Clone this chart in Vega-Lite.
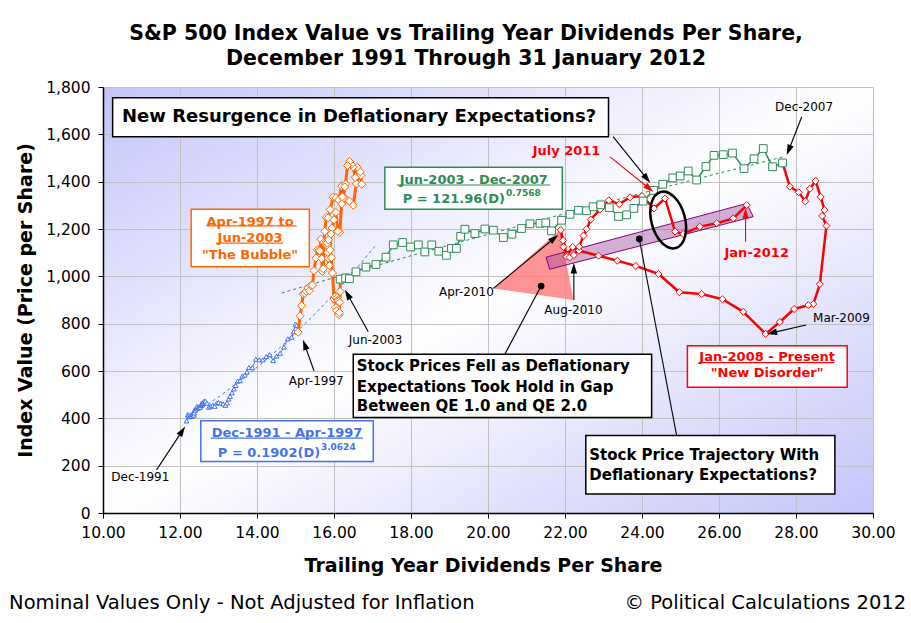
{
  "$schema": "https://vega.github.io/schema/vega-lite/v6.json",
  "width": 770,
  "height": 426,
  "autosize": "none",
  "padding": {"left": 103, "top": 87, "right": 38, "bottom": 110},
  "background": "#ffffff",
  "config": {
    "font": "DejaVu Sans",
    "view": {"stroke": null, "fill": {"gradient": "linear", "x1": 0, "y1": 0, "x2": 1, "y2": 1, "stops": [{"offset": 0, "color": "#c4c4fa"}, {"offset": 0.5, "color": "#ffffff"}, {"offset": 1, "color": "#c4c4fa"}]}},
    "axis": {"gridColor": "#c0c0c0", "domainColor": "#000000", "tickColor": "#000000", "labelColor": "#000000", "titleColor": "#000000", "labelFont": "DejaVu Sans", "labelFontSize": 15.5, "titleFont": "DejaVu Sans", "titleFontSize": 19, "titleFontWeight": "bold", "tickSize": 5, "labelOverlap": false, "labelFlush": false, "domainWidth": 1.5}
  },
  "title": {"text": ["S&P 500 Index Value vs Trailing Year Dividends Per Share,", "December 1991 Through 31 January 2012"], "font": "DejaVu Sans", "fontSize": 20.5, "fontWeight": "bold", "lineHeight": 25, "anchor": "middle", "dx": -22, "offset": 11, "color": "#000000"},
  "datasets": {
    "sp": [
      {"m":"1991-12","s":"a","d":12.17,"p":389},{"m":"1992-01","s":"a","d":12.2,"p":416},{"m":"1992-02","s":"a","d":12.22,"p":413},{"m":"1992-03","s":"a","d":12.24,"p":407},{"m":"1992-04","s":"a","d":12.26,"p":407},{"m":"1992-05","s":"a","d":12.28,"p":415},{"m":"1992-06","s":"a","d":12.3,"p":408},{"m":"1992-07","s":"a","d":12.31,"p":415},{"m":"1992-08","s":"a","d":12.33,"p":418},{"m":"1992-09","s":"a","d":12.35,"p":419},{"m":"1992-10","s":"a","d":12.36,"p":413},{"m":"1992-11","s":"a","d":12.37,"p":423},{"m":"1992-12","s":"a","d":12.38,"p":436},
      {"m":"1993-01","s":"a","d":12.4,"p":435},{"m":"1993-02","s":"a","d":12.42,"p":442},{"m":"1993-03","s":"a","d":12.44,"p":450},{"m":"1993-04","s":"a","d":12.46,"p":443},{"m":"1993-05","s":"a","d":12.48,"p":445},{"m":"1993-06","s":"a","d":12.5,"p":448},{"m":"1993-07","s":"a","d":12.52,"p":447},{"m":"1993-08","s":"a","d":12.54,"p":454},{"m":"1993-09","s":"a","d":12.55,"p":459},{"m":"1993-10","s":"a","d":12.57,"p":464},{"m":"1993-11","s":"a","d":12.58,"p":463},{"m":"1993-12","s":"a","d":12.6,"p":466},
      {"m":"1994-01","s":"a","d":12.63,"p":473},{"m":"1994-02","s":"a","d":12.66,"p":472},{"m":"1994-03","s":"a","d":12.7,"p":464},{"m":"1994-04","s":"a","d":12.75,"p":447},{"m":"1994-05","s":"a","d":12.8,"p":451},{"m":"1994-06","s":"a","d":12.85,"p":455},{"m":"1994-07","s":"a","d":12.9,"p":451},{"m":"1994-08","s":"a","d":12.95,"p":464},{"m":"1994-09","s":"a","d":13.0,"p":467},{"m":"1994-10","s":"a","d":13.06,"p":464},{"m":"1994-11","s":"a","d":13.12,"p":461},{"m":"1994-12","s":"a","d":13.18,"p":455},
      {"m":"1995-01","s":"a","d":13.22,"p":465},{"m":"1995-02","s":"a","d":13.26,"p":482},{"m":"1995-03","s":"a","d":13.3,"p":493},{"m":"1995-04","s":"a","d":13.35,"p":508},{"m":"1995-05","s":"a","d":13.4,"p":524},{"m":"1995-06","s":"a","d":13.45,"p":539},{"m":"1995-07","s":"a","d":13.5,"p":557},{"m":"1995-08","s":"a","d":13.56,"p":559},{"m":"1995-09","s":"a","d":13.62,"p":579},{"m":"1995-10","s":"a","d":13.68,"p":583},{"m":"1995-11","s":"a","d":13.74,"p":596},{"m":"1995-12","s":"a","d":13.79,"p":615},
      {"m":"1996-01","s":"a","d":13.88,"p":614},{"m":"1996-02","s":"a","d":13.97,"p":650},{"m":"1996-03","s":"a","d":14.06,"p":647},{"m":"1996-04","s":"a","d":14.15,"p":647},{"m":"1996-05","s":"a","d":14.24,"p":661},{"m":"1996-06","s":"a","d":14.33,"p":669},{"m":"1996-07","s":"a","d":14.42,"p":644},{"m":"1996-08","s":"a","d":14.51,"p":663},{"m":"1996-09","s":"a","d":14.6,"p":675},{"m":"1996-10","s":"a","d":14.7,"p":701},{"m":"1996-11","s":"a","d":14.8,"p":736},{"m":"1996-12","s":"a","d":14.9,"p":743},
      {"m":"1997-01","s":"a","d":14.95,"p":766},{"m":"1997-02","s":"a","d":15.0,"p":798},{"m":"1997-03","s":"a","d":15.03,"p":792},{"m":"1997-04","s":"a","d":15.07,"p":764},
      {"m":"1997-04","s":"b","d":15.07,"p":764},{"m":"1997-05","s":"b","d":15.12,"p":833},{"m":"1997-06","s":"b","d":15.16,"p":876},{"m":"1997-07","s":"b","d":15.2,"p":925},{"m":"1997-08","s":"b","d":15.24,"p":928},{"m":"1997-09","s":"b","d":15.28,"p":937},{"m":"1997-10","s":"b","d":15.32,"p":951},{"m":"1997-11","s":"b","d":15.36,"p":939},{"m":"1997-12","s":"b","d":15.4,"p":962},
      {"m":"1998-01","s":"b","d":15.44,"p":963},{"m":"1998-02","s":"b","d":15.48,"p":1024},{"m":"1998-03","s":"b","d":15.53,"p":1077},{"m":"1998-04","s":"b","d":15.57,"p":1112},{"m":"1998-05","s":"b","d":15.6,"p":1108},{"m":"1998-06","s":"b","d":15.63,"p":1108},{"m":"1998-07","s":"b","d":15.66,"p":1157},{"m":"1998-08","s":"b","d":15.68,"p":1075},{"m":"1998-09","s":"b","d":15.7,"p":1021},{"m":"1998-10","s":"b","d":15.72,"p":1032},{"m":"1998-11","s":"b","d":15.74,"p":1144},{"m":"1998-12","s":"b","d":15.76,"p":1190},
      {"m":"1999-01","s":"b","d":15.8,"p":1249},{"m":"1999-02","s":"b","d":15.85,"p":1247},{"m":"1999-03","s":"b","d":15.9,"p":1282},{"m":"1999-04","s":"b","d":15.98,"p":1335},{"m":"1999-05","s":"b","d":16.05,"p":1332},{"m":"1999-06","s":"b","d":16.12,"p":1323},{"m":"1999-07","s":"b","d":16.2,"p":1381},{"m":"1999-08","s":"b","d":16.3,"p":1327},{"m":"1999-09","s":"b","d":16.4,"p":1318},{"m":"1999-10","s":"b","d":16.5,"p":1300},{"m":"1999-11","s":"b","d":16.58,"p":1391},{"m":"1999-12","s":"b","d":16.65,"p":1429},
      {"m":"2000-01","s":"b","d":16.7,"p":1426},{"m":"2000-02","s":"b","d":16.72,"p":1389},{"m":"2000-03","s":"b","d":16.68,"p":1442},{"m":"2000-04","s":"b","d":16.6,"p":1461},{"m":"2000-05","s":"b","d":16.55,"p":1418},{"m":"2000-06","s":"b","d":16.5,"p":1462},{"m":"2000-07","s":"b","d":16.45,"p":1473},{"m":"2000-08","s":"b","d":16.4,"p":1485},{"m":"2000-09","s":"b","d":16.35,"p":1468},{"m":"2000-10","s":"b","d":16.3,"p":1390},{"m":"2000-11","s":"b","d":16.28,"p":1378},{"m":"2000-12","s":"b","d":16.25,"p":1331},
      {"m":"2001-01","s":"b","d":16.22,"p":1336},{"m":"2001-02","s":"b","d":16.2,"p":1306},{"m":"2001-03","s":"b","d":16.15,"p":1186},{"m":"2001-04","s":"b","d":16.1,"p":1190},{"m":"2001-05","s":"b","d":16.05,"p":1270},{"m":"2001-06","s":"b","d":16.0,"p":1239},{"m":"2001-07","s":"b","d":15.95,"p":1204},{"m":"2001-08","s":"b","d":15.92,"p":1179},{"m":"2001-09","s":"b","d":15.88,"p":1045},{"m":"2001-10","s":"b","d":15.85,"p":1077},{"m":"2001-11","s":"b","d":15.82,"p":1130},{"m":"2001-12","s":"b","d":15.8,"p":1145},
      {"m":"2002-01","s":"b","d":15.82,"p":1140},{"m":"2002-02","s":"b","d":15.84,"p":1101},{"m":"2002-03","s":"b","d":15.86,"p":1154},{"m":"2002-04","s":"b","d":15.9,"p":1112},{"m":"2002-05","s":"b","d":15.93,"p":1079},{"m":"2002-06","s":"b","d":15.96,"p":1014},{"m":"2002-07","s":"b","d":16.0,"p":904},{"m":"2002-08","s":"b","d":16.03,"p":913},{"m":"2002-09","s":"b","d":16.05,"p":868},{"m":"2002-10","s":"b","d":16.07,"p":855},{"m":"2002-11","s":"b","d":16.08,"p":910},{"m":"2002-12","s":"b","d":16.1,"p":899},
      {"m":"2003-01","s":"b","d":16.12,"p":896},{"m":"2003-02","s":"b","d":16.13,"p":838},{"m":"2003-03","s":"b","d":16.14,"p":847},{"m":"2003-04","s":"b","d":16.15,"p":890},{"m":"2003-05","s":"b","d":16.16,"p":936},{"m":"2003-06","s":"b","d":16.16,"p":988},
      {"m":"2003-06","s":"c","d":16.16,"p":988},{"m":"2003-07","s":"c","d":16.3,"p":993},{"m":"2003-08","s":"c","d":16.4,"p":990},{"m":"2003-09","s":"c","d":16.57,"p":1019},{"m":"2003-10","s":"c","d":16.83,"p":1039},{"m":"2003-11","s":"c","d":17.09,"p":1050},{"m":"2003-12","s":"c","d":17.35,"p":1081},
      {"m":"2004-01","s":"c","d":17.54,"p":1133},{"m":"2004-02","s":"c","d":17.78,"p":1143},{"m":"2004-03","s":"c","d":17.99,"p":1124},{"m":"2004-04","s":"c","d":18.19,"p":1133},{"m":"2004-05","s":"c","d":18.36,"p":1103},{"m":"2004-06","s":"c","d":18.54,"p":1133},{"m":"2004-07","s":"c","d":18.72,"p":1106},{"m":"2004-08","s":"c","d":18.92,"p":1089},{"m":"2004-09","s":"c","d":19.05,"p":1118},{"m":"2004-10","s":"c","d":19.18,"p":1118},{"m":"2004-11","s":"c","d":19.29,"p":1169},{"m":"2004-12","s":"c","d":19.4,"p":1199},
      {"m":"2005-01","s":"c","d":19.66,"p":1181},{"m":"2005-02","s":"c","d":19.92,"p":1200},{"m":"2005-03","s":"c","d":20.14,"p":1195},{"m":"2005-04","s":"c","d":20.4,"p":1164},{"m":"2005-05","s":"c","d":20.62,"p":1178},{"m":"2005-06","s":"c","d":20.87,"p":1202},{"m":"2005-07","s":"c","d":21.09,"p":1222},{"m":"2005-08","s":"c","d":21.35,"p":1224},{"m":"2005-09","s":"c","d":21.5,"p":1226},{"m":"2005-10","s":"c","d":21.65,"p":1192},{"m":"2005-11","s":"c","d":21.91,"p":1237},{"m":"2005-12","s":"c","d":22.13,"p":1262},
      {"m":"2006-01","s":"c","d":22.35,"p":1279},{"m":"2006-02","s":"c","d":22.56,"p":1277},{"m":"2006-03","s":"c","d":22.73,"p":1294},{"m":"2006-04","s":"c","d":22.93,"p":1302},{"m":"2006-05","s":"c","d":23.15,"p":1290},{"m":"2006-06","s":"c","d":23.39,"p":1253},{"m":"2006-07","s":"c","d":23.6,"p":1260},{"m":"2006-08","s":"c","d":23.79,"p":1287},{"m":"2006-09","s":"c","d":24.03,"p":1318},{"m":"2006-10","s":"c","d":24.3,"p":1363},{"m":"2006-11","s":"c","d":24.54,"p":1389},{"m":"2006-12","s":"c","d":24.8,"p":1416},
      {"m":"2007-01","s":"c","d":24.99,"p":1424},{"m":"2007-02","s":"c","d":25.2,"p":1445},{"m":"2007-03","s":"c","d":25.42,"p":1407},{"m":"2007-04","s":"c","d":25.66,"p":1464},{"m":"2007-05","s":"c","d":25.87,"p":1511},{"m":"2007-06","s":"c","d":26.11,"p":1514},{"m":"2007-07","s":"c","d":26.35,"p":1521},{"m":"2007-08","s":"c","d":26.65,"p":1455},{"m":"2007-09","s":"c","d":26.91,"p":1497},{"m":"2007-10","s":"c","d":27.15,"p":1540},{"m":"2007-11","s":"c","d":27.39,"p":1463},{"m":"2007-12","s":"c","d":27.65,"p":1479},
      {"m":"2007-12","s":"d","d":27.65,"p":1479},{"m":"2008-01","s":"d","d":27.84,"p":1379},{"m":"2008-02","s":"d","d":28.07,"p":1355},{"m":"2008-03","s":"d","d":28.24,"p":1317},{"m":"2008-04","s":"d","d":28.36,"p":1370},{"m":"2008-05","s":"d","d":28.51,"p":1403},{"m":"2008-06","s":"d","d":28.64,"p":1336},{"m":"2008-07","s":"d","d":28.74,"p":1280},{"m":"2008-08","s":"d","d":28.68,"p":1255},{"m":"2008-09","s":"d","d":28.79,"p":1214},{"m":"2008-10","s":"d","d":28.62,"p":967},{"m":"2008-11","s":"d","d":28.45,"p":883},{"m":"2008-12","s":"d","d":28.32,"p":878},
      {"m":"2009-01","s":"d","d":27.95,"p":862},{"m":"2009-02","s":"d","d":27.58,"p":807},{"m":"2009-03","s":"d","d":27.21,"p":757},{"m":"2009-04","s":"d","d":26.63,"p":850},{"m":"2009-05","s":"d","d":26.09,"p":903},{"m":"2009-06","s":"d","d":25.55,"p":925},{"m":"2009-07","s":"d","d":24.97,"p":933},{"m":"2009-08","s":"d","d":24.43,"p":1010},{"m":"2009-09","s":"d","d":23.84,"p":1044},{"m":"2009-10","s":"d","d":23.36,"p":1066},{"m":"2009-11","s":"d","d":22.87,"p":1087},{"m":"2009-12","s":"d","d":22.36,"p":1109},
      {"m":"2010-01","s":"d","d":22.2,"p":1124},{"m":"2010-02","s":"d","d":22.05,"p":1089},{"m":"2010-03","s":"d","d":21.95,"p":1152},{"m":"2010-04","s":"d","d":21.89,"p":1196},{"m":"2010-05","s":"d","d":21.96,"p":1125},{"m":"2010-06","s":"d","d":22.04,"p":1083},{"m":"2010-07","s":"d","d":22.12,"p":1080},{"m":"2010-08","s":"d","d":22.23,"p":1090},{"m":"2010-09","s":"d","d":22.37,"p":1125},{"m":"2010-10","s":"d","d":22.48,"p":1172},{"m":"2010-11","s":"d","d":22.56,"p":1199},{"m":"2010-12","s":"d","d":22.67,"p":1240},
      {"m":"2011-01","s":"d","d":22.91,"p":1283},{"m":"2011-02","s":"d","d":23.14,"p":1321},{"m":"2011-03","s":"d","d":23.41,"p":1305},{"m":"2011-04","s":"d","d":23.69,"p":1334},{"m":"2011-05","s":"d","d":24.0,"p":1339},{"m":"2011-06","s":"d","d":24.31,"p":1287},{"m":"2011-07","s":"d","d":24.6,"p":1329},{"m":"2011-08","s":"d","d":24.86,"p":1189},{"m":"2011-09","s":"d","d":25.07,"p":1179},{"m":"2011-10","s":"d","d":25.5,"p":1210},{"m":"2011-11","s":"d","d":25.94,"p":1224},{"m":"2011-12","s":"d","d":26.37,"p":1245},
      {"m":"2012-01","s":"d","d":26.72,"p":1301}
    ],
    "trend": [
      {"k":"blue","d":12.2,"p":403.7},{"k":"blue","d":12.6,"p":445.6},{"k":"blue","d":13,"p":490.4},{"k":"blue","d":13.5,"p":550.5},{"k":"blue","d":14,"p":615.3},{"k":"blue","d":14.5,"p":685.1},{"k":"blue","d":15,"p":760.1},{"k":"blue","d":15.5,"p":840.4},{"k":"blue","d":16,"p":926.3},{"k":"blue","d":16.5,"p":1017.7},{"k":"blue","d":17.06,"p":1126},
      {"k":"green","d":14.64,"p":929.7},{"k":"green","d":16,"p":994.3},{"k":"green","d":18,"p":1087},{"k":"green","d":20,"p":1177.2},{"k":"green","d":22,"p":1265.3},{"k":"green","d":24,"p":1351.4},{"k":"green","d":26,"p":1435.8},{"k":"green","d":27.7,"p":1505.9}
    ],
    "poly": [
      {"g":"tri","d":20.14,"p":949,"p2":949},{"g":"tri","d":21.87,"p":1196,"p2":908},{"g":"tri","d":22.22,"p":900,"p2":900},
      {"g":"band","d":21.51,"p":1081,"p2":1081},{"g":"band","d":21.6,"p":1085,"p2":1030},{"g":"band","d":26.72,"p":1308,"p2":1245},{"g":"band","d":26.89,"p":1252,"p2":1252}
    ],
    "rules": [
      {"g":"arr","k":"black","d":11.39,"p":182,"d2":12.06,"p2":347},
      {"g":"arr","k":"black","d":15.48,"p":601,"d2":15.24,"p2":711},
      {"g":"arr","k":"black","d":16.89,"p":766,"d2":16.35,"p2":924},
      {"g":"arr","k":"black","d":20.14,"p":949,"d2":21.72,"p2":1161},
      {"g":"arr","k":"black","d":22.23,"p":900,"d2":22.23,"p2":1034},
      {"g":"arr","k":"black","d":28.15,"p":1674,"d2":27.81,"p2":1533},
      {"g":"arr","k":"black","d":28.26,"p":794,"d2":27.37,"p2":761},
      {"g":"arr","k":"black","d":23.25,"p":1590,"d2":24.13,"p2":1412},
      {"g":"arr","k":"red","d":23.17,"p":1505,"d2":24.19,"p2":1371},
      {"g":"arr","k":"red","d":26.69,"p":1146,"d2":26.69,"p2":1266},
      {"g":"arr","k":"black","d":21.38,"p":959,"d2":20.44,"p2":672},
      {"g":"arr","k":"black","d":23.93,"p":1158,"d2":24.9,"p2":327},
      {"g":"ul","k":"blue","d":12.8,"p":316,"d2":16.75,"p2":316},
      {"g":"ul","k":"orange","d":12.69,"p":1213,"d2":15.03,"p2":1213},
      {"g":"ul","k":"orange","d":12.93,"p":1140,"d2":14.68,"p2":1140},
      {"g":"ul","k":"green","d":17.63,"p":1386,"d2":21.61,"p2":1386},
      {"g":"ul","k":"red","d":25.51,"p":635,"d2":29.0,"p2":635}
    ],
    "heads": [
      {"k":"black","d":12.06,"p":347,"a":33.2},
      {"k":"black","d":15.24,"p":711,"a":-19.2},
      {"k":"black","d":16.35,"p":924,"a":-29.2},
      {"k":"black","d":21.72,"p":1161,"a":50.6},
      {"k":"black","d":22.23,"p":1034,"a":0},
      {"k":"black","d":27.81,"p":1533,"a":-158.6},
      {"k":"black","d":27.37,"p":761,"a":-102.9},
      {"k":"black","d":24.13,"p":1412,"a":141.4},
      {"k":"red","d":24.19,"p":1371,"a":128.9},
      {"k":"red","d":26.69,"p":1266,"a":0}
    ],
    "dots": [{"d":21.38,"p":959},{"d":23.93,"p":1158}],
    "ring": [{"d":24.68,"p":1238}],
    "boxes": [
      {"k":"black","d":10.25,"d2":23.13,"p":1755,"p2":1590},
      {"k":"orange","d":12.29,"d2":15.36,"p":1283,"p2":1041},
      {"k":"green","d":17.32,"d2":21.93,"p":1461,"p2":1283},
      {"k":"blue","d":12.54,"d2":17.02,"p":390,"p2":218},
      {"k":"red","d":25.18,"d2":29.33,"p":707,"p2":531},
      {"k":"black","d":16.5,"d2":24.25,"p":671,"p2":404},
      {"k":"black","d":22.54,"d2":29.01,"p":327,"p2":80}
    ],
    "txt": [
      {"g":"lab","k":"black","d":10.97,"p":153,"t":"Dec-1991"},
      {"g":"lab","k":"black","d":15.54,"p":558,"t":"Apr-1997"},
      {"g":"lab","k":"black","d":17.08,"p":731,"t":"Jun-2003"},
      {"g":"lab","k":"black","d":19.44,"p":935,"t":"Apr-2010"},
      {"g":"lab","k":"black","d":22.22,"p":858,"t":"Aug-2010"},
      {"g":"lab","k":"black","d":28.21,"p":1717,"t":"Dec-2007"},
      {"g":"lab","k":"black","d":29.18,"p":823,"t":"Mar-2009"},
      {"g":"redlab","k":"red","d":22.04,"p":1530,"t":"July 2011"},
      {"g":"redlab","k":"red","d":26.98,"p":1100,"t":"Jan-2012"},
      {"g":"boxhead","k":"blue","d":14.78,"p":339,"t":"Dec-1991 - Apr-1997"},
      {"g":"boxhead","k":"orange","d":13.82,"p":1231,"t":"Apr-1997 to"},
      {"g":"boxhead","k":"orange","d":13.82,"p":1161,"t":"Jun-2003"},
      {"g":"boxhead","k":"orange","d":13.82,"p":1090,"t":"\"The Bubble\""},
      {"g":"boxhead","k":"green","d":19.63,"p":1407,"t":"Jun-2003 - Dec-2007"},
      {"g":"boxhead","k":"red","d":27.25,"p":658,"t":"Jan-2008 - Present"},
      {"g":"boxhead","k":"red","d":27.25,"p":590,"t":"\"New Disorder\""},
      {"g":"eq","k":"blue","d":15.64,"p":255,"t":"P = 0.1902(D)"},
      {"g":"eq","k":"green","d":20.44,"p":1325,"t":"P = 121.96(D)"},
      {"g":"sup","k":"blue","d":15.66,"p":280,"t":"3.0624"},
      {"g":"sup","k":"green","d":20.47,"p":1351,"t":"0.7568"},
      {"g":"note","k":"black","d":16.59,"p":621,"t":"Stock Prices Fell as Deflationary"},
      {"g":"note","k":"black","d":16.59,"p":534,"t":"Expectations Took Hold in Gap"},
      {"g":"note","k":"black","d":16.59,"p":452,"t":"Between QE 1.0 and QE 2.0"},
      {"g":"note","k":"black","d":22.63,"p":245,"t":"Stock Price Trajectory With"},
      {"g":"note","k":"black","d":22.63,"p":161,"t":"Deflationary Expectations?"},
      {"g":"big","k":"black","d":16.65,"p":1674,"t":"New Resurgence in Deflationary Expectations?"},
      {"g":"footl","k":"black","d":7.56,"p":-380,"t":"Nominal Values Only - Not Adjusted for Inflation"},
      {"g":"footr","k":"black","d":30.86,"p":-380,"t":"© Political Calculations 2012"}
    ]
  },
  "encoding": {
    "x": {"field": "d", "type": "quantitative", "scale": {"domain": [10, 30], "nice": false, "zero": false},
      "axis": {"values": [10, 12, 14, 16, 18, 20, 22, 24, 26, 28, 30], "format": ".2f", "labelPadding": 7, "title": "Trailing Year Dividends Per Share", "titleX": 380, "titleY": 52, "titleBaseline": "middle"}},
    "y": {"field": "p", "type": "quantitative", "scale": {"domain": [0, 1800], "nice": false, "zero": false},
      "axis": {"values": [0, 200, 400, 600, 800, 1000, 1200, 1400, 1600, 1800], "format": ",.0f", "labelPadding": 8, "title": "Index Value (Price per Share)", "titleX": -78, "titleY": 213, "titleBaseline": "middle", "titleAngle": 270, "titleAlign": "center"}}
  },
  "layer": [
    {"data": {"name": "poly"}, "transform": [{"filter": "datum.g == 'tri'"}], "mark": {"type": "area", "orient": "vertical", "color": "#ff8080", "opacity": 0.85}, "encoding": {"y2": {"field": "p2"}}},
    {"data": {"name": "poly"}, "transform": [{"filter": "datum.g == 'band'"}], "mark": {"type": "area", "orient": "vertical", "fill": "#a050a0", "fillOpacity": 0.45, "stroke": "#800080", "strokeWidth": 1}, "encoding": {"y2": {"field": "p2"}}},
    {"data": {"name": "trend"}, "mark": {"type": "line", "strokeDash": [3, 3], "strokeWidth": 1},
      "encoding": {"color": {"field": "k", "type": "nominal", "scale": {"domain": ["blue", "orange", "green", "red", "black"], "range": ["#4472ee", "#ff6600", "#2e8b57", "#ff0000", "#000000"]}, "legend": null}}},
    {"data": {"name": "sp"}, "transform": [{"filter": "datum.s == 'a'"}], "mark": {"type": "line", "color": "#4472ee", "strokeWidth": 1, "point": {"shape": "triangle-up", "filled": true, "fill": "#ffffff", "stroke": "#4472ee", "strokeWidth": 1, "size": 22}}, "encoding": {"order": {"field": "m"}}},
    {"data": {"name": "sp"}, "transform": [{"filter": "datum.s == 'b'"}], "mark": {"type": "line", "color": "#ff6600", "strokeWidth": 3, "point": {"shape": "diamond", "filled": true, "fill": "#ffffff", "stroke": "#ff6600", "strokeWidth": 1, "size": 65}}, "encoding": {"order": {"field": "m"}}},
    {"data": {"name": "sp"}, "transform": [{"filter": "datum.s == 'd'"}], "mark": {"type": "line", "color": "#ff0000", "strokeWidth": 2.5, "point": {"shape": "diamond", "filled": true, "fill": "#ffffff", "stroke": "#ff0000", "strokeWidth": 1, "size": 50}}, "encoding": {"order": {"field": "m"}}},
    {"data": {"name": "sp"}, "transform": [{"filter": "datum.s == 'c'"}], "mark": {"type": "line", "color": "#2e8b57", "strokeWidth": 1.5, "point": {"shape": "square", "filled": true, "fill": "#ffffff", "stroke": "#2e8b57", "strokeWidth": 1, "size": 60}}, "encoding": {"order": {"field": "m"}}},
    {"data": {"name": "rules"}, "transform": [{"filter": "datum.g == 'arr'"}], "mark": {"type": "rule", "strokeWidth": 1.1},
      "encoding": {"x2": {"field": "d2"}, "y2": {"field": "p2"}, "color": {"field": "k", "type": "nominal", "scale": {"domain": ["blue", "orange", "green", "red", "black"], "range": ["#4472ee", "#ff6600", "#2e8b57", "#ff0000", "#000000"]}, "legend": null}}},
    {"data": {"name": "heads"}, "mark": {"type": "point", "shape": "M0,-1L0.62,1L-0.62,1Z", "filled": true, "size": 110, "opacity": 1},
      "encoding": {"angle": {"field": "a", "type": "quantitative", "scale": null}, "color": {"field": "k", "type": "nominal", "scale": {"domain": ["blue", "orange", "green", "red", "black"], "range": ["#4472ee", "#ff6600", "#2e8b57", "#ff0000", "#000000"]}, "legend": null}}},
    {"data": {"name": "dots"}, "mark": {"type": "point", "shape": "circle", "filled": true, "color": "#000000", "size": 45, "opacity": 1}},
    {"data": {"name": "ring"}, "mark": {"type": "point", "shape": "M0,-1A0.58,1,0,1,1,0,1A0.58,1,0,1,1,0,-1Z", "filled": false, "stroke": "#000000", "strokeWidth": 2.5, "size": 3364, "angle": -15, "opacity": 1}},
    {"data": {"name": "boxes"}, "mark": {"type": "rect", "fill": "#ffffff", "strokeWidth": 1.5},
      "encoding": {"x2": {"field": "d2"}, "y2": {"field": "p2"}, "stroke": {"field": "k", "type": "nominal", "scale": {"domain": ["blue", "orange", "green", "red", "black"], "range": ["#4472ee", "#ff6600", "#2e8b57", "#ff0000", "#000000"]}, "legend": null}}},
    {"data": {"name": "rules"}, "transform": [{"filter": "datum.g == 'ul'"}], "mark": {"type": "rule", "strokeWidth": 1.2},
      "encoding": {"x2": {"field": "d2"}, "y2": {"field": "p2"}, "color": {"field": "k", "type": "nominal", "scale": {"domain": ["blue", "orange", "green", "red", "black"], "range": ["#4472ee", "#ff6600", "#2e8b57", "#ff0000", "#000000"]}, "legend": null}}},
    {"data": {"name": "txt"}, "transform": [{"filter": "datum.g == 'lab'"}], "mark": {"type": "text", "font": "DejaVu Sans", "fontSize": 12, "align": "center", "baseline": "middle"},
      "encoding": {"text": {"field": "t"}, "color": {"value": "#000000"}}},
    {"data": {"name": "txt"}, "transform": [{"filter": "datum.g == 'redlab'"}], "mark": {"type": "text", "font": "DejaVu Sans", "fontSize": 13, "fontWeight": "bold", "align": "center", "baseline": "middle"},
      "encoding": {"text": {"field": "t"}, "color": {"value": "#ff0000"}}},
    {"data": {"name": "txt"}, "transform": [{"filter": "datum.g == 'boxhead'"}], "mark": {"type": "text", "font": "DejaVu Sans", "fontSize": 13, "fontWeight": "bold", "align": "center", "baseline": "middle"},
      "encoding": {"text": {"field": "t"}, "color": {"field": "k", "type": "nominal", "scale": {"domain": ["blue", "orange", "green", "red", "black"], "range": ["#4472ee", "#ff6600", "#2e8b57", "#ff0000", "#000000"]}, "legend": null}}},
    {"data": {"name": "txt"}, "transform": [{"filter": "datum.g == 'eq'"}], "mark": {"type": "text", "font": "DejaVu Sans", "fontSize": 13, "fontWeight": "bold", "align": "right", "baseline": "middle"},
      "encoding": {"text": {"field": "t"}, "color": {"field": "k", "type": "nominal", "scale": {"domain": ["blue", "orange", "green", "red", "black"], "range": ["#4472ee", "#ff6600", "#2e8b57", "#ff0000", "#000000"]}, "legend": null}}},
    {"data": {"name": "txt"}, "transform": [{"filter": "datum.g == 'sup'"}], "mark": {"type": "text", "font": "DejaVu Sans", "fontSize": 9, "fontWeight": "bold", "align": "left", "baseline": "middle"},
      "encoding": {"text": {"field": "t"}, "color": {"field": "k", "type": "nominal", "scale": {"domain": ["blue", "orange", "green", "red", "black"], "range": ["#4472ee", "#ff6600", "#2e8b57", "#ff0000", "#000000"]}, "legend": null}}},
    {"data": {"name": "txt"}, "transform": [{"filter": "datum.g == 'note'"}], "mark": {"type": "text", "font": "DejaVu Sans", "fontSize": 15, "fontWeight": "bold", "align": "left", "baseline": "middle"},
      "encoding": {"text": {"field": "t"}, "color": {"value": "#000000"}}},
    {"data": {"name": "txt"}, "transform": [{"filter": "datum.g == 'big'"}], "mark": {"type": "text", "font": "DejaVu Sans", "fontSize": 18, "fontWeight": "bold", "align": "center", "baseline": "middle"},
      "encoding": {"text": {"field": "t"}, "color": {"value": "#000000"}}},
    {"data": {"name": "txt"}, "transform": [{"filter": "datum.g == 'footl'"}], "mark": {"type": "text", "font": "DejaVu Sans", "fontSize": 19.5, "align": "left", "baseline": "middle"},
      "encoding": {"text": {"field": "t"}, "color": {"value": "#000000"}}},
    {"data": {"name": "txt"}, "transform": [{"filter": "datum.g == 'footr'"}], "mark": {"type": "text", "font": "DejaVu Sans", "fontSize": 19.5, "align": "right", "baseline": "middle"},
      "encoding": {"text": {"field": "t"}, "color": {"value": "#000000"}}}
  ]
}
